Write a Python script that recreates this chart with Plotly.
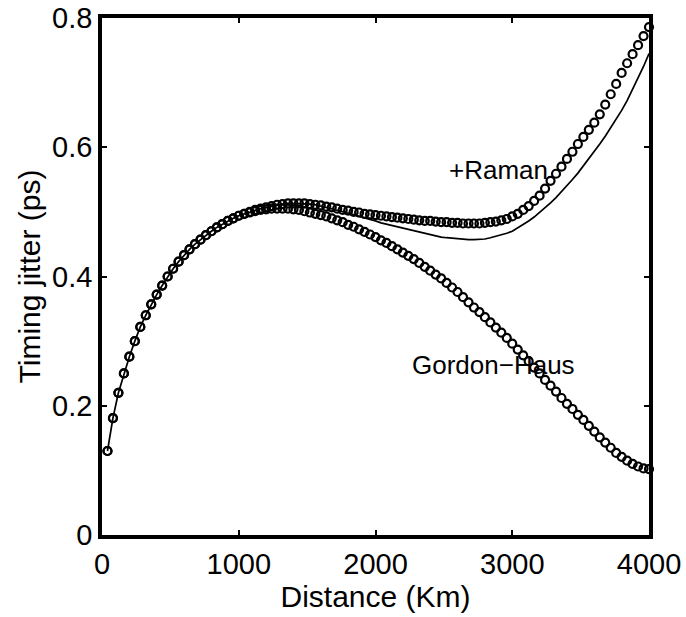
import plotly.graph_objects as go

distance_km = [40 * (i + 1) for i in range(100)]

early = [0.130, 0.181, 0.220, 0.250, 0.276, 0.300, 0.322, 0.340, 0.357, 0.372,
         0.386, 0.400, 0.412, 0.423, 0.433, 0.442, 0.450, 0.457, 0.464, 0.470,
         0.476, 0.481, 0.486, 0.490, 0.494]  # 40 .. 1000

raman_circles = early + [
    0.497, 0.500, 0.503, 0.505, 0.507, 0.509, 0.511, 0.512, 0.513, 0.513,  # 1040-1400
    0.513, 0.513, 0.512, 0.511, 0.510, 0.508, 0.507, 0.505, 0.503, 0.502,  # 1440-1800
    0.500, 0.499, 0.497, 0.496, 0.495, 0.494, 0.493, 0.492, 0.491, 0.490,  # 1840-2200
    0.489, 0.488, 0.487, 0.486, 0.486, 0.485, 0.484, 0.484, 0.483, 0.483,  # 2240-2600
    0.482, 0.482, 0.482, 0.482, 0.483, 0.484, 0.485, 0.487, 0.489, 0.493,  # 2640-3000
    0.497, 0.503, 0.509, 0.517, 0.525, 0.536, 0.548, 0.559, 0.570, 0.582,  # 3040-3400
    0.593, 0.605, 0.616, 0.627, 0.638, 0.651, 0.666, 0.682, 0.698, 0.715,  # 3440-3800
    0.730, 0.744, 0.758, 0.772, 0.786]                                     # 3840-4000

raman_line = early + [
    0.497, 0.500, 0.503, 0.505, 0.507, 0.509, 0.511, 0.512, 0.513, 0.513,  # 1040-1400
    0.513, 0.513, 0.512, 0.511, 0.509, 0.507, 0.505, 0.503, 0.501, 0.498,  # 1440-1800
    0.496, 0.493, 0.491, 0.488, 0.486, 0.483, 0.481, 0.478, 0.476, 0.474,  # 1840-2200
    0.472, 0.470, 0.468, 0.466, 0.464, 0.463, 0.461, 0.460, 0.459, 0.458,  # 2240-2600
    0.457, 0.457, 0.457, 0.457, 0.458, 0.460, 0.462, 0.464, 0.467, 0.470,  # 2640-3000
    0.475, 0.480, 0.486, 0.492, 0.499, 0.506, 0.514, 0.522, 0.531, 0.540,  # 3040-3400
    0.550, 0.560, 0.571, 0.582, 0.593, 0.605, 0.617, 0.630, 0.643, 0.657,  # 3440-3800
    0.672, 0.689, 0.706, 0.725, 0.745]                                     # 3840-4000

gordon_haus = early + [
    0.497, 0.499, 0.501, 0.503, 0.504, 0.505, 0.505, 0.505, 0.505, 0.504,  # 1040-1400
    0.503, 0.501, 0.499, 0.497, 0.495, 0.493, 0.490, 0.487, 0.484, 0.480,  # 1440-1800
    0.477, 0.473, 0.469, 0.465, 0.461, 0.456, 0.452, 0.447, 0.442, 0.437,  # 1840-2200
    0.432, 0.427, 0.421, 0.415, 0.409, 0.403, 0.397, 0.390, 0.383, 0.376,  # 2240-2600
    0.368, 0.360, 0.352, 0.345, 0.337, 0.329, 0.321, 0.313, 0.305, 0.296,  # 2640-3000
    0.287, 0.278, 0.269, 0.259, 0.250, 0.240, 0.231, 0.222, 0.212, 0.203,  # 3040-3400
    0.195, 0.186, 0.178, 0.169, 0.160, 0.151, 0.143, 0.135, 0.127, 0.121,  # 3440-3800
    0.115, 0.110, 0.106, 0.103, 0.102]                                     # 3840-4000

x_ticks = [0, 1000, 2000, 3000, 4000]
x_tick_labels = ["0", "1000", "2000", "3000", "4000"]
y_ticks = [0, 0.2, 0.4, 0.6, 0.8]
y_tick_labels = ["0", "0.2", "0.4", "0.6", "0.8"]

labels = ["+Raman", "Gordon\u2212Haus"]
label_x = [2523, 2252]
label_y = [0.565, 0.263]

FONT = "Liberation Sans, Arial, sans-serif"

fig = go.Figure()
fig.add_trace(go.Scatter(x=distance_km, y=raman_line, mode="lines",
                         line=dict(color="black", width=1.7), showlegend=False))
marker_style = dict(symbol="circle-open", size=8, color="black",
                    line=dict(width=2.2, color="black"))
fig.add_trace(go.Scatter(x=distance_km, y=raman_circles, mode="markers",
                         marker=marker_style, showlegend=False, cliponaxis=False))
fig.add_trace(go.Scatter(x=distance_km, y=gordon_haus, mode="markers",
                         marker=marker_style, showlegend=False, cliponaxis=False))

for t, xx, yy in zip(labels, label_x, label_y):
    fig.add_annotation(x=xx, y=yy, text=t, showarrow=False, xanchor="left",
                       yanchor="middle", font=dict(size=26, color="black", family=FONT))

axis_common = dict(showgrid=False, zeroline=False, showline=True, linecolor="black",
                   linewidth=3.5, mirror="ticks", ticks="inside", ticklen=5,
                   tickwidth=2, tickcolor="black", automargin=False,
                   tickfont=dict(size=29, color="black", family=FONT))

fig.update_xaxes(range=[0, 4000], tickvals=x_ticks, ticktext=x_tick_labels,
                 title=dict(text="Distance (Km)", font=dict(size=30, color="black", family=FONT),
                            standoff=2),
                 **axis_common)
fig.update_yaxes(range=[0, 0.8], tickvals=y_ticks, ticktext=y_tick_labels,
                 title=dict(text="Timing jitter (ps)", font=dict(size=30, color="black", family=FONT),
                            standoff=4),
                 **axis_common)

fig.update_layout(width=686, height=617, margin=dict(l=102, r=37, t=18, b=82),
                  plot_bgcolor="white", paper_bgcolor="white",
                  font=dict(family=FONT, color="black"))

fig.write_html("out.html")
